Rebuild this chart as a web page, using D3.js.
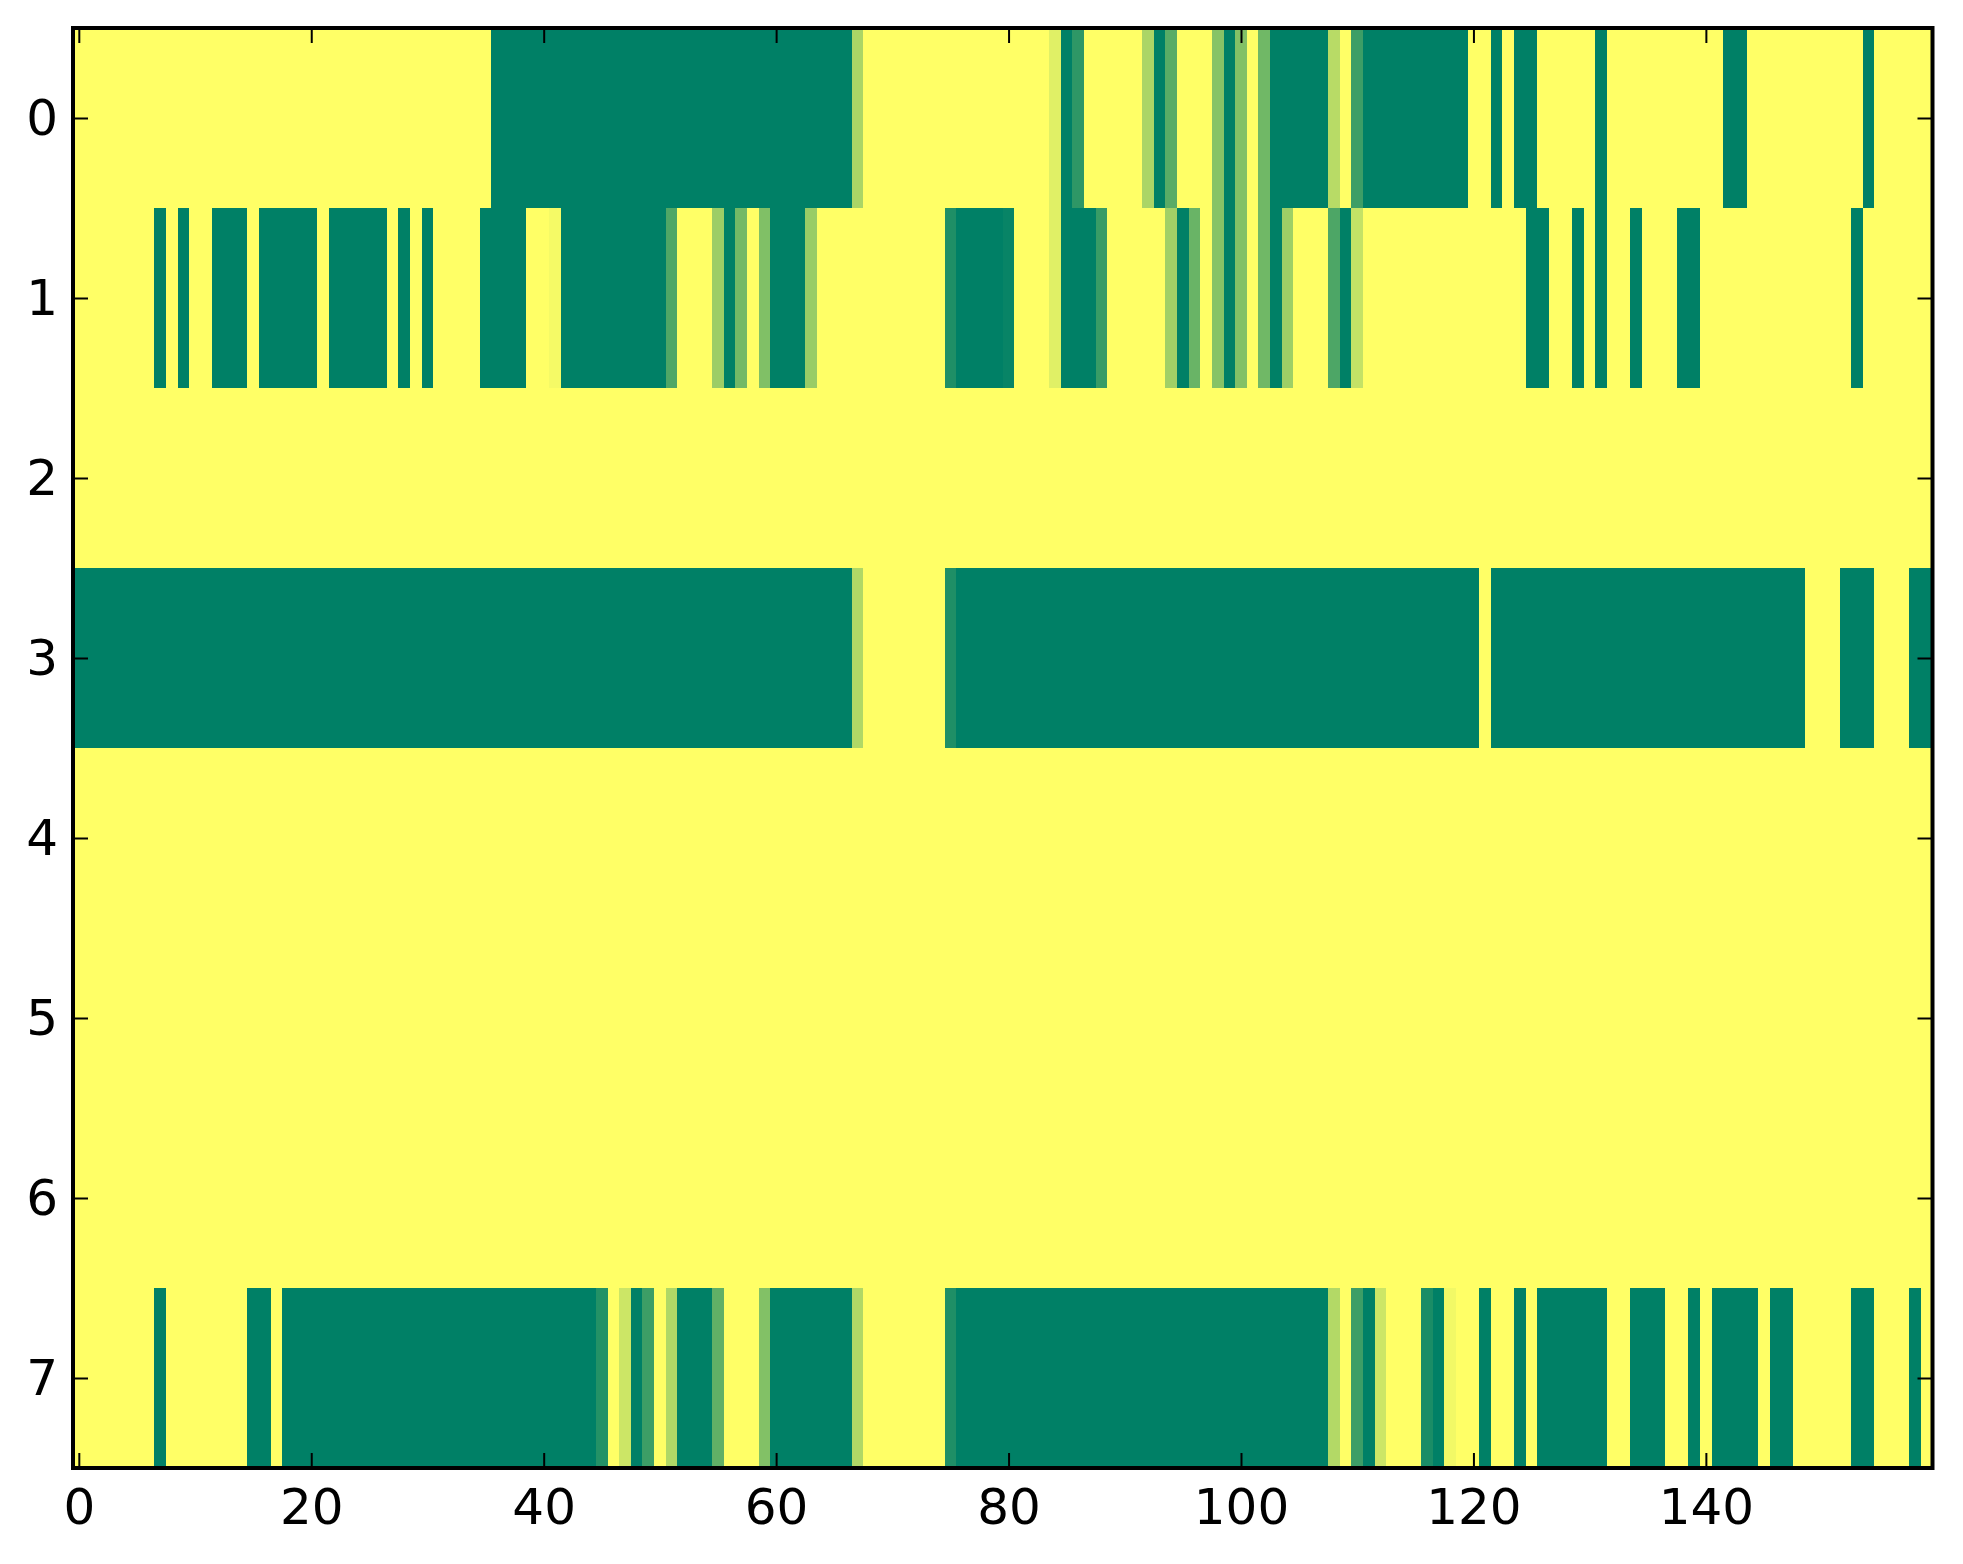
<!DOCTYPE html>
<html><head><meta charset="utf-8">
<script src="https://cdn.jsdelivr.net/npm/d3@7"></script>
<style>
body{margin:0;background:#fff}
svg{display:block}
text{font-family:"DejaVu Sans",sans-serif}
</style>
</head><body>
<svg id="c" width="1963" height="1564"></svg>
<script>
// ---- data ----
const rowLabels = [0,1,2,3,4,5,6,7];
const xTickValues = [0,20,40,60,80,100,120,140];

const row0 = [
 1,1,1,1,1,1,1,1,1,1,
 1,1,1,1,1,1,1,1,1,1,
 1,1,1,1,1,1,1,1,1,1,
 1,1,1,1,1,1,0,0,0,0,
 0,0,0,0,0,0,0,0,0,0,
 0,0,0,0,0,0,0,0,0,0,
 0,0,0,0,0,0,0,0.67,1,1,
 1,1,1,1,1,1,1,1,1,1,
 1,1,1,1,0.88,0,0.18,1,1,1,
 1,1,0.67,0,0.35,1,1,1,0.53,0,
 0.51,1,0.44,0,0,0,0,0,0.72,1,
 0.24,0,0,0,0,0,0,0,0,0,
 1,1,0,1,0,0,1,1,1,1,
 1,0,1,1,1,1,1,1,1,1,
 1,1,0,0,1,1,1,1,1,1,
 1,1,1,1,0,1,1,1,1,1
];
const row1 = [
 1,1,1,1,1,1,1,0,1,0,
 1,1,0,0,0,1,0,0,0,0,
 0,1,0,0,0,0,0,1,0,1,
 0,1,1,1,1,0,0,0,0,1,
 1,0.96,0,0,0,0,0,0,0,0,
 0,0.31,1,1,1,0.61,0,0.45,1,0.5,
 0,0,0,0.6,1,1,1,1,1,1,
 1,1,1,1,1,0.12,0,0,0,0,
 0.03,1,1,1,0.88,0,0,0,0.22,1,
 1,1,1,1,0.63,0,0.41,1,0.53,0,
 0.51,1,0.44,0,0.62,1,1,1,0.3,0,
 0.77,1,1,1,1,1,1,1,1,1,
 1,1,1,1,1,0,0,1,1,0,
 1,0,1,1,0,1,1,1,0,0,
 1,1,1,1,1,1,1,1,1,1,
 1,1,1,0,1,1,1,1,1,1
];
const row2 = [
 1,1,1,1,1,1,1,1,1,1, 1,1,1,1,1,1,1,1,1,1,
 1,1,1,1,1,1,1,1,1,1, 1,1,1,1,1,1,1,1,1,1,
 1,1,1,1,1,1,1,1,1,1, 1,1,1,1,1,1,1,1,1,1,
 1,1,1,1,1,1,1,1,1,1, 1,1,1,1,1,1,1,1,1,1,
 1,1,1,1,1,1,1,1,1,1, 1,1,1,1,1,1,1,1,1,1,
 1,1,1,1,1,1,1,1,1,1, 1,1,1,1,1,1,1,1,1,1,
 1,1,1,1,1,1,1,1,1,1, 1,1,1,1,1,1,1,1,1,1,
 1,1,1,1,1,1,1,1,1,1, 1,1,1,1,1,1,1,1,1,1
];
const row3 = [
 0,0,0,0,0,0,0,0,0,0, 0,0,0,0,0,0,0,0,0,0,
 0,0,0,0,0,0,0,0,0,0, 0,0,0,0,0,0,0,0,0,0,
 0,0,0,0,0,0,0,0,0,0, 0,0,0,0,0,0,0,0,0,0,
 0,0,0,0,0,0,0,0.69,1,1, 1,1,1,1,1,0.12,0,0,0,0,
 0,0,0,0,0,0,0,0,0,0, 0,0,0,0,0,0,0,0,0,0,
 0,0,0,0,0,0,0,0,0,0, 0,0,0,0,0,0,0,0,0,0,
 0,1,0,0,0,0,0,0,0,0, 0,0,0,0,0,0,0,0,0,0,
 0,0,0,0,0,0,0,0,0,1, 1,1,0,0,0,1,1,1,0,0
];
const row4 = [
 1,1,1,1,1,1,1,1,1,1, 1,1,1,1,1,1,1,1,1,1,
 1,1,1,1,1,1,1,1,1,1, 1,1,1,1,1,1,1,1,1,1,
 1,1,1,1,1,1,1,1,1,1, 1,1,1,1,1,1,1,1,1,1,
 1,1,1,1,1,1,1,1,1,1, 1,1,1,1,1,1,1,1,1,1,
 1,1,1,1,1,1,1,1,1,1, 1,1,1,1,1,1,1,1,1,1,
 1,1,1,1,1,1,1,1,1,1, 1,1,1,1,1,1,1,1,1,1,
 1,1,1,1,1,1,1,1,1,1, 1,1,1,1,1,1,1,1,1,1,
 1,1,1,1,1,1,1,1,1,1, 1,1,1,1,1,1,1,1,1,1
];
const row5 = [
 1,1,1,1,1,1,1,1,1,1, 1,1,1,1,1,1,1,1,1,1,
 1,1,1,1,1,1,1,1,1,1, 1,1,1,1,1,1,1,1,1,1,
 1,1,1,1,1,1,1,1,1,1, 1,1,1,1,1,1,1,1,1,1,
 1,1,1,1,1,1,1,1,1,1, 1,1,1,1,1,1,1,1,1,1,
 1,1,1,1,1,1,1,1,1,1, 1,1,1,1,1,1,1,1,1,1,
 1,1,1,1,1,1,1,1,1,1, 1,1,1,1,1,1,1,1,1,1,
 1,1,1,1,1,1,1,1,1,1, 1,1,1,1,1,1,1,1,1,1,
 1,1,1,1,1,1,1,1,1,1, 1,1,1,1,1,1,1,1,1,1
];
const row6 = [
 1,1,1,1,1,1,1,1,1,1, 1,1,1,1,1,1,1,1,1,1,
 1,1,1,1,1,1,1,1,1,1, 1,1,1,1,1,1,1,1,1,1,
 1,1,1,1,1,1,1,1,1,1, 1,1,1,1,1,1,1,1,1,1,
 1,1,1,1,1,1,1,1,1,1, 1,1,1,1,1,1,1,1,1,1,
 1,1,1,1,1,1,1,1,1,1, 1,1,1,1,1,1,1,1,1,1,
 1,1,1,1,1,1,1,1,1,1, 1,1,1,1,1,1,1,1,1,1,
 1,1,1,1,1,1,1,1,1,1, 1,1,1,1,1,1,1,1,1,1,
 1,1,1,1,1,1,1,1,1,1, 1,1,1,1,1,1,1,1,1,1
];
const row7 = [
 1,1,1,1,1,1,1,0,1,1,
 1,1,1,1,1,0,0,1,0,0,
 0,0,0,0,0,0,0,0,0,0,
 0,0,0,0,0,0,0,0,0,0,
 0,0,0,0,0,0.14,1,0.8,0,0.24,
 1,0.69,0,0,0,0.38,1,1,1,0.51,
 0,0,0,0,0,0,0,0.69,1,1,
 1,1,1,1,1,0.12,0,0,0,0,
 0,0,0,0,0,0,0,0,0,0,
 0,0,0,0,0,0,0,0,0,0,
 0,0,0,0,0,0,0,0,0.7,1,
 0.24,0,0.8,1,1,1,0.1,0,0.95,1,
 1,0,1,1,0,1,0,0,0,0,
 0,0,1,1,0,0,0,1,1,0,
 1,0,0,0,0,1,0,0,1,1,
 1,1,1,0,0,1,1,1,0,1
];
const grid = [row0,row1,row2,row3,row4,row5,row6,row7];
grid.forEach((r,i)=>{ if(r.length!==160) console.warn("row",i,"len",r.length); });

// ---- layout ----
const plotLeft = 73, plotRight = 1932.5, plotTop = 28, plotBottom = 1468;
const nCols = row0.length, nRows = grid.length;
const x = d3.scaleLinear().domain([-0.5, nCols - 0.5]).range([plotLeft, plotRight]);
const y = d3.scaleLinear().domain([-0.5, nRows - 0.5]).range([plotTop, plotBottom]);
// matplotlib "summer" colormap: (v, 0.5+0.5v, 0.4)
const color = d3.scaleLinear().domain([0,1]).range(["#008066","#ffff66"]).interpolate(d3.interpolateRgb);

const svg = d3.select("#c");
svg.append("rect").attr("width",1963).attr("height",1564).attr("fill","#fff");

const cells = [];
grid.forEach((row, r) => row.forEach((v, c) => cells.push({r, c, v})));

svg.append("g").attr("shape-rendering","crispEdges")
  .selectAll("rect").data(cells).join("rect")
  .attr("x", d => x(d.c - 0.5))
  .attr("y", d => y(d.r - 0.5))
  .attr("width", d => x(d.c + 0.5) - x(d.c - 0.5) + 0.6)
  .attr("height", d => y(d.r + 0.5) - y(d.r - 0.5) + 0.6)
  .attr("fill", d => color(d.v));

const tickLen = 15, fontSize = 50;
function style(g){
  g.select(".domain").remove();
  g.selectAll(".tick line").attr("stroke","#000").attr("stroke-width",2);
  g.selectAll(".tick text").attr("fill","#000").style("font-size",fontSize+"px")
   .style("font-family","'DejaVu Sans', sans-serif");
}
svg.append("g").attr("transform",`translate(0,${plotBottom})`)
  .call(d3.axisBottom(x).tickValues(xTickValues).tickSizeInner(-tickLen).tickSizeOuter(0).tickPadding(20))
  .call(style);
svg.append("g").attr("transform",`translate(0,${plotTop})`)
  .call(d3.axisTop(x).tickValues(xTickValues).tickSizeInner(-tickLen).tickSizeOuter(0).tickFormat(""))
  .call(style);
svg.append("g").attr("transform",`translate(${plotLeft},0)`)
  .call(d3.axisLeft(y).tickValues(rowLabels).tickSizeInner(-tickLen).tickSizeOuter(0).tickPadding(15))
  .call(style);
svg.append("g").attr("transform",`translate(${plotRight},0)`)
  .call(d3.axisRight(y).tickValues(rowLabels).tickSizeInner(-tickLen).tickSizeOuter(0).tickFormat(""))
  .call(style);

svg.append("rect")
  .attr("x", plotLeft).attr("y", plotTop)
  .attr("width", plotRight - plotLeft).attr("height", plotBottom - plotTop)
  .attr("fill","none").attr("stroke","#000").attr("stroke-width",4);
</script>
</body></html>
